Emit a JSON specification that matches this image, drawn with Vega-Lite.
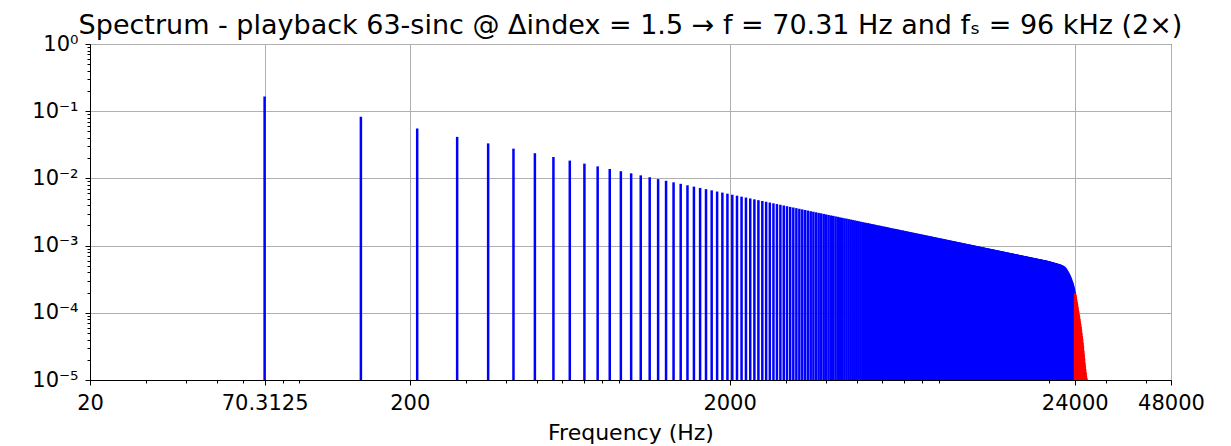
{
"$schema": "https://vega.github.io/schema/vega-lite/v6.json",
"width": 1081,
"height": 336,
"autosize": {"type": "none"},
"padding": {"left": 90, "top": 44, "right": 60, "bottom": 66},
"config": {
  "font": "DejaVu Sans",
  "view": {"stroke": "black", "strokeWidth": 1},
  "axis": {"domainColor": "black", "tickColor": "black", "tickWidth": 1, "labelColor": "black", "titleColor": "black", "gridColor": "#b0b0b0", "gridWidth": 1, "labelFont": "DejaVu Sans", "titleFont": "DejaVu Sans"}
},
"title": {"text": "Spectrum - playback 63-sinc @ Δindex = 1.5 → f = 70.31 Hz and fₛ = 96 kHz (2×)", "font": "DejaVu Sans", "fontSize": 27, "fontWeight": "normal", "color": "black", "anchor": "middle", "frame": "group", "offset": -7},
"data": {"values": [
{"f":70.3125,"a":0.166},{"f":140.625,"a":0.083},{"f":210.9375,"a":0.0553},{"f":281.25,"a":0.0415},{"f":351.5625,"a":0.0332},{"f":421.875,"a":0.0277},{"f":492.1875,"a":0.0237},{"f":562.5,"a":0.0208},{"f":632.8125,"a":0.0184},{"f":703.125,"a":0.0166},{"f":773.4375,"a":0.0151},{"f":843.75,"a":0.0138},{"f":914.0625,"a":0.0128},{"f":984.375,"a":0.0119},{"f":1054.6875,"a":0.0111},{"f":1125,"a":0.0104},
{"f":1195.3125,"a":0.00976},{"f":1265.625,"a":0.00922},{"f":1335.9375,"a":0.00874},{"f":1406.25,"a":0.0083},{"f":1476.5625,"a":0.0079},{"f":1546.875,"a":0.00755},{"f":1617.1875,"a":0.00722},{"f":1687.5,"a":0.00692},{"f":1757.8125,"a":0.00664},{"f":1828.125,"a":0.00638},{"f":1898.4375,"a":0.00615},{"f":1968.75,"a":0.00593},{"f":2039.0625,"a":0.00572},{"f":2109.375,"a":0.00553},{"f":2179.6875,"a":0.00535},{"f":2250,"a":0.00519},
{"f":2320.3125,"a":0.00503},{"f":2390.625,"a":0.00488},{"f":2460.9375,"a":0.00474},{"f":2531.25,"a":0.00461},{"f":2601.5625,"a":0.00449},{"f":2671.875,"a":0.00437},{"f":2742.1875,"a":0.00426},{"f":2812.5,"a":0.00415},{"f":2882.8125,"a":0.00405},{"f":2953.125,"a":0.00395},{"f":3023.4375,"a":0.00386},{"f":3093.75,"a":0.00377},{"f":3164.0625,"a":0.00369},{"f":3234.375,"a":0.00361},{"f":3304.6875,"a":0.00353},{"f":3375,"a":0.00346},
{"f":3445.3125,"a":0.00339},{"f":3515.625,"a":0.00332},{"f":3585.9375,"a":0.00325},{"f":3656.25,"a":0.00319},{"f":3726.5625,"a":0.00313},{"f":3796.875,"a":0.00307},{"f":3867.1875,"a":0.00302},{"f":3937.5,"a":0.00296},{"f":4007.8125,"a":0.00291},{"f":4078.125,"a":0.00286},{"f":4148.4375,"a":0.00281},{"f":4218.75,"a":0.00277},{"f":4289.0625,"a":0.00272},{"f":4359.375,"a":0.00268},{"f":4429.6875,"a":0.00263},{"f":4500,"a":0.00259},
{"f":4570.3125,"a":0.00255},{"f":4640.625,"a":0.00252},{"f":4710.9375,"a":0.00248},{"f":4781.25,"a":0.00244},{"f":4851.5625,"a":0.00241},{"f":4921.875,"a":0.00237},{"f":4992.1875,"a":0.00234},{"f":5062.5,"a":0.00231},{"f":5132.8125,"a":0.00227},{"f":5203.125,"a":0.00224},{"f":5273.4375,"a":0.00221},{"f":5343.75,"a":0.00218},{"f":5414.0625,"a":0.00216},{"f":5484.375,"a":0.00213},{"f":5554.6875,"a":0.0021},{"f":5625,"a":0.00208},
{"f":5695.3125,"a":0.00205},{"f":5765.625,"a":0.00202},{"f":5835.9375,"a":0.002},{"f":5906.25,"a":0.00198},{"f":5976.5625,"a":0.00195},{"f":6046.875,"a":0.00193},{"f":6117.1875,"a":0.00191},{"f":6187.5,"a":0.00189},{"f":6257.8125,"a":0.00187},{"f":6328.125,"a":0.00184},{"f":6398.4375,"a":0.00182},{"f":6468.75,"a":0.0018},{"f":6539.0625,"a":0.00178},{"f":6609.375,"a":0.00177},{"f":6679.6875,"a":0.00175},{"f":6750,"a":0.00173},
{"f":6820.3125,"a":0.00171},{"f":6890.625,"a":0.00169},{"f":6960.9375,"a":0.00168},{"f":7031.25,"a":0.00166},{"f":7101.5625,"a":0.001644},{"f":7171.875,"a":0.001627},{"f":7242.1875,"a":0.001612},{"f":7312.5,"a":0.001596},{"f":7382.8125,"a":0.001581},{"f":7453.125,"a":0.001566},{"f":7523.4375,"a":0.001551},{"f":7593.75,"a":0.001537},{"f":7664.0625,"a":0.001523},{"f":7734.375,"a":0.001509},{"f":7804.6875,"a":0.001495},{"f":7875,"a":0.001482},
{"f":7945.3125,"a":0.001469},{"f":8015.625,"a":0.001456},{"f":8085.9375,"a":0.001443},{"f":8156.25,"a":0.001431},{"f":8226.5625,"a":0.001419},{"f":8296.875,"a":0.001407},{"f":8367.1875,"a":0.001395},{"f":8437.5,"a":0.001383},{"f":8507.8125,"a":0.001372},{"f":8578.125,"a":0.001361},{"f":8648.4375,"a":0.00135},{"f":8718.75,"a":0.001339},{"f":8789.0625,"a":0.001328},{"f":8859.375,"a":0.001317},{"f":8929.6875,"a":0.001307},{"f":9000,"a":0.001297},
{"f":9070.3125,"a":0.001287},{"f":9140.625,"a":0.001277},{"f":9210.9375,"a":0.001267},{"f":9281.25,"a":0.001258},{"f":9351.5625,"a":0.001248},{"f":9421.875,"a":0.001239},{"f":9492.1875,"a":0.00123},{"f":9562.5,"a":0.001221},{"f":9632.8125,"a":0.001212},{"f":9703.125,"a":0.001203},{"f":9773.4375,"a":0.001194},{"f":9843.75,"a":0.001186},{"f":9914.0625,"a":0.001177},{"f":9984.375,"a":0.001169},{"f":10054.6875,"a":0.001161},{"f":10125,"a":0.001153},
{"f":10195.3125,"a":0.001145},{"f":10265.625,"a":0.001137},{"f":10335.9375,"a":0.001129},{"f":10406.25,"a":0.001122},{"f":10476.5625,"a":0.001114},{"f":10546.875,"a":0.001107},{"f":10617.1875,"a":0.001099},{"f":10687.5,"a":0.001092},{"f":10757.8125,"a":0.001085},{"f":10828.125,"a":0.001078},{"f":10898.4375,"a":0.001071},{"f":10968.75,"a":0.001064},{"f":11039.0625,"a":0.001057},{"f":11109.375,"a":0.001051},{"f":11179.6875,"a":0.001044},{"f":11250,"a":0.001038},
{"f":11320.3125,"a":0.001031},{"f":11390.625,"a":0.001025},{"f":11460.9375,"a":0.001018},{"f":11531.25,"a":0.001012},{"f":11601.5625,"a":0.001006},{"f":11671.875,"a":0.001},{"f":11742.1875,"a":0.000994},{"f":11812.5,"a":0.000988},{"f":11882.8125,"a":0.000982},{"f":11953.125,"a":0.000976},{"f":12023.4375,"a":0.000971},{"f":12093.75,"a":0.000965},{"f":12164.0625,"a":0.00096},{"f":12234.375,"a":0.000954},{"f":12304.6875,"a":0.000949},{"f":12375,"a":0.000943},
{"f":12445.3125,"a":0.000938},{"f":12515.625,"a":0.000933},{"f":12585.9375,"a":0.000927},{"f":12656.25,"a":0.000922},{"f":12726.5625,"a":0.000917},{"f":12796.875,"a":0.000912},{"f":12867.1875,"a":0.000907},{"f":12937.5,"a":0.000902},{"f":13007.8125,"a":0.000897},{"f":13078.125,"a":0.000892},{"f":13148.4375,"a":0.000888},{"f":13218.75,"a":0.000883},{"f":13289.0625,"a":0.000878},{"f":13359.375,"a":0.000874},{"f":13429.6875,"a":0.000869},{"f":13500,"a":0.000865},
{"f":13570.3125,"a":0.00086},{"f":13640.625,"a":0.000856},{"f":13710.9375,"a":0.000851},{"f":13781.25,"a":0.000847},{"f":13851.5625,"a":0.000843},{"f":13921.875,"a":0.000838},{"f":13992.1875,"a":0.000834},{"f":14062.5,"a":0.00083},{"f":14132.8125,"a":0.000826},{"f":14203.125,"a":0.000822},{"f":14273.4375,"a":0.000818},{"f":14343.75,"a":0.000814},{"f":14414.0625,"a":0.00081},{"f":14484.375,"a":0.000806},{"f":14554.6875,"a":0.000802},{"f":14625,"a":0.000798},
{"f":14695.3125,"a":0.000794},{"f":14765.625,"a":0.00079},{"f":14835.9375,"a":0.000787},{"f":14906.25,"a":0.000783},{"f":14976.5625,"a":0.000779},{"f":15046.875,"a":0.000776},{"f":15117.1875,"a":0.000772},{"f":15187.5,"a":0.000769},{"f":15257.8125,"a":0.000765},{"f":15328.125,"a":0.000761},{"f":15398.4375,"a":0.000758},{"f":15468.75,"a":0.000755},{"f":15539.0625,"a":0.000751},{"f":15609.375,"a":0.000748},{"f":15679.6875,"a":0.000744},{"f":15750,"a":0.000741},
{"f":15820.3125,"a":0.000738},{"f":15890.625,"a":0.000735},{"f":15960.9375,"a":0.000731},{"f":16031.25,"a":0.000728},{"f":16101.5625,"a":0.000725},{"f":16171.875,"a":0.000722},{"f":16242.1875,"a":0.000719},{"f":16312.5,"a":0.000716},{"f":16382.8125,"a":0.000712},{"f":16453.125,"a":0.000709},{"f":16523.4375,"a":0.000706},{"f":16593.75,"a":0.000703},{"f":16664.0625,"a":0.0007},{"f":16734.375,"a":0.000697},{"f":16804.6875,"a":0.000695},{"f":16875,"a":0.000692},
{"f":16945.3125,"a":0.000689},{"f":17015.625,"a":0.000686},{"f":17085.9375,"a":0.000683},{"f":17156.25,"a":0.00068},{"f":17226.5625,"a":0.000678},{"f":17296.875,"a":0.000675},{"f":17367.1875,"a":0.000672},{"f":17437.5,"a":0.000669},{"f":17507.8125,"a":0.000667},{"f":17578.125,"a":0.000664},{"f":17648.4375,"a":0.000661},{"f":17718.75,"a":0.000659},{"f":17789.0625,"a":0.000656},{"f":17859.375,"a":0.000654},{"f":17929.6875,"a":0.000651},{"f":18000,"a":0.000648},
{"f":18070.3125,"a":0.000646},{"f":18140.625,"a":0.000643},{"f":18210.9375,"a":0.000641},{"f":18281.25,"a":0.000638},{"f":18351.5625,"a":0.000636},{"f":18421.875,"a":0.000634},{"f":18492.1875,"a":0.000631},{"f":18562.5,"a":0.000629},{"f":18632.8125,"a":0.000626},{"f":18703.125,"a":0.000624},{"f":18773.4375,"a":0.000622},{"f":18843.75,"a":0.000619},{"f":18914.0625,"a":0.000617},{"f":18984.375,"a":0.000615},{"f":19054.6875,"a":0.000613},{"f":19125,"a":0.00061},
{"f":19195.3125,"a":0.000608},{"f":19265.625,"a":0.000606},{"f":19335.9375,"a":0.000604},{"f":19406.25,"a":0.000601},{"f":19476.5625,"a":0.000599},{"f":19546.875,"a":0.000597},{"f":19617.1875,"a":0.000595},{"f":19687.5,"a":0.000593},{"f":19757.8125,"a":0.00059},{"f":19828.125,"a":0.000587},{"f":19898.4375,"a":0.000584},{"f":19968.75,"a":0.000582},{"f":20039.0625,"a":0.000579},{"f":20109.375,"a":0.000576},{"f":20179.6875,"a":0.000574},{"f":20250,"a":0.000571},
{"f":20320.3125,"a":0.000568},{"f":20390.625,"a":0.000566},{"f":20460.9375,"a":0.000563},{"f":20531.25,"a":0.00056},{"f":20601.5625,"a":0.000558},{"f":20671.875,"a":0.000555},{"f":20742.1875,"a":0.000553},{"f":20812.5,"a":0.00055},{"f":20882.8125,"a":0.000547},{"f":20953.125,"a":0.000545},{"f":21023.4375,"a":0.000542},{"f":21093.75,"a":0.00054},{"f":21164.0625,"a":0.000538},{"f":21234.375,"a":0.000535},{"f":21304.6875,"a":0.000533},{"f":21375,"a":0.00053},
{"f":21445.3125,"a":0.000528},{"f":21515.625,"a":0.000525},{"f":21585.9375,"a":0.000522},{"f":21656.25,"a":0.000519},{"f":21726.5625,"a":0.000516},{"f":21796.875,"a":0.000513},{"f":21867.1875,"a":0.000509},{"f":21937.5,"a":0.000504},{"f":22007.8125,"a":0.0005},{"f":22078.125,"a":0.000496},{"f":22148.4375,"a":0.000492},{"f":22218.75,"a":0.000487},{"f":22289.0625,"a":0.000479},{"f":22359.375,"a":0.000472},{"f":22429.6875,"a":0.000464},{"f":22500,"a":0.000456},
{"f":22570.3125,"a":0.000445},{"f":22640.625,"a":0.000435},{"f":22710.9375,"a":0.000424},{"f":22781.25,"a":0.000414},{"f":22851.5625,"a":0.000403},{"f":22921.875,"a":0.000393},{"f":22992.1875,"a":0.000382},{"f":23062.5,"a":0.000372},{"f":23132.8125,"a":0.00036},{"f":23203.125,"a":0.000348},{"f":23273.4375,"a":0.000337},{"f":23343.75,"a":0.000325},{"f":23414.0625,"a":0.000312},{"f":23484.375,"a":0.000299},{"f":23554.6875,"a":0.000288},{"f":23625,"a":0.000277},
{"f":23695.3125,"a":0.000263},{"f":23765.625,"a":0.000249},{"f":23835.9375,"a":0.000236},{"f":23906.25,"a":0.000221},{"f":23976.5625,"a":0.000205},{"f":24046.875,"a":0.000195},{"f":24117.1875,"a":0.000186},{"f":24187.5,"a":0.000174},{"f":24257.8125,"a":0.000158},{"f":24328.125,"a":0.000145},{"f":24398.4375,"a":0.000135},{"f":24468.75,"a":0.000123},{"f":24539.0625,"a":0.000112},{"f":24609.375,"a":0.000105},{"f":24679.6875,"a":0.000095},{"f":24750,"a":0.000089},
{"f":24820.3125,"a":0.000081},{"f":24890.625,"a":0.000074},{"f":24960.9375,"a":0.000068},{"f":25031.25,"a":0.000062},{"f":25101.5625,"a":0.000056},{"f":25171.875,"a":0.00005},{"f":25242.1875,"a":0.000045},{"f":25312.5,"a":0.000041},{"f":25382.8125,"a":0.000036},{"f":25453.125,"a":0.000032},{"f":25523.4375,"a":0.0000275},{"f":25593.75,"a":0.000024},{"f":25664.0625,"a":0.000021},{"f":25734.375,"a":0.000018},{"f":25804.6875,"a":0.0000162},{"f":25875,"a":0.0000145},
{"f":25945.3125,"a":0.0000129},{"f":26015.625,"a":0.0000115},{"f":26085.9375,"a":0.0000107},{"f":26156.25,"a":0.0000102}
]},
"mark": {"type": "rule", "strokeWidth": 2.5},
"encoding": {
  "x": {"field": "f", "type": "quantitative",
    "scale": {"type": "log", "domain": [20, 48000], "nice": false},
    "axis": {
      "title": "Frequency (Hz)", "titleFontSize": 22, "titleFontWeight": "normal", "titlePadding": 9,
      "labelFontSize": 21, "labelPadding": 7, "labelOverlap": false, "labelFlush": false,
      "values": [20,30,40,50,60,70.3125,80,90,200,300,400,500,600,700,800,900,2000,3000,4000,5000,6000,7000,8000,9000,20000,24000,30000,40000,48000],
      "labelExpr": "indexof([20,70.3125,200,2000,24000,48000], datum.value) >= 0 ? '' + datum.value : ''",
      "tickSize": {"condition": {"test": "indexof([20,70.3125,200,2000,24000,48000], datum.value) < 0", "value": 3}, "value": 5},
      "gridOpacity": {"condition": {"test": "indexof([20,70.3125,200,2000,24000,48000], datum.value) < 0", "value": 0}, "value": 1}
    }
  },
  "y": {"field": "a", "type": "quantitative",
    "scale": {"type": "log", "domain": [0.00001, 1], "nice": false},
    "axis": {
      "title": null,
      "labelFontSize": 21, "labelPadding": 7, "labelOverlap": false, "labelFlush": false,
      "values": [1,0.9,0.8,0.7,0.6,0.5,0.4,0.3,0.2,0.1,0.09,0.08,0.07,0.06,0.05,0.04,0.03,0.02,0.01,0.009,0.008,0.007,0.006,0.005,0.004,0.003,0.002,0.001,0.0009,0.0008,0.0007,0.0006,0.0005,0.0004,0.0003,0.0002,0.0001,0.00009,0.00008,0.00007,0.00006,0.00005,0.00004,0.00003,0.00002,0.00001],
      "labelExpr": "indexof([1,0.1,0.01,0.001,0.0001,0.00001], datum.value) >= 0 ? ['10⁰','10⁻¹','10⁻²','10⁻³','10⁻⁴','10⁻⁵'][indexof([1,0.1,0.01,0.001,0.0001,0.00001], datum.value)] : ''",
      "tickSize": {"condition": {"test": "indexof([1,0.1,0.01,0.001,0.0001,0.00001], datum.value) < 0", "value": 3}, "value": 5},
      "gridOpacity": {"condition": {"test": "indexof([1,0.1,0.01,0.001,0.0001,0.00001], datum.value) < 0", "value": 0}, "value": 1}
    }
  },
  "y2": {"datum": 0.00001},
  "color": {"condition": {"test": "datum.f > 24000", "value": "#ff0000"}, "value": "#0000ff"}
}
}
